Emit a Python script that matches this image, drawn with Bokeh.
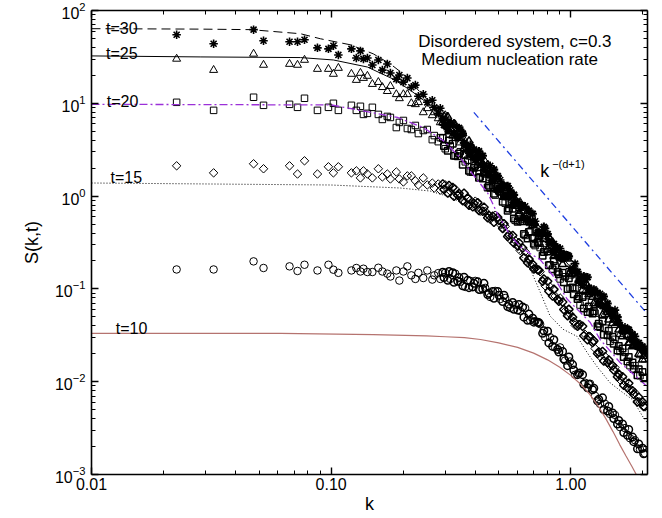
import math
from bokeh.plotting import figure
from bokeh.models import LogAxis, FixedTicker, CustomJSTickFormatter, Label
from bokeh.embed import file_html
from bokeh.resources import INLINE

FONT = "Liberation Sans"

# wave numbers of the measured points (first set)
k = [0.02266, 0.03233, 0.04746, 0.05222, 0.06705, 0.07239, 0.07742, 0.08768, 0.09744,
     0.1022, 0.1072, 0.1215, 0.1274, 0.1325, 0.1364, 0.1417, 0.1486, 0.1574, 0.1636,
     0.1716, 0.1767, 0.1871, 0.1926, 0.2002, 0.2080, 0.2161, 0.2246, 0.2312, 0.2424,
     0.2519, 0.2643, 0.2694, 0.2799,
     0.2854, 0.2994, 0.3141, 0.3296, 0.3458, 0.3628, 0.3806, 0.3993, 0.4189, 0.4395,
     0.4611, 0.4837, 0.5075, 0.5325, 0.5586, 0.5861, 0.6149, 0.6451, 0.6768, 0.7100,
     0.7449, 0.7815, 0.8199, 0.8602, 0.9025, 0.9468, 0.9933, 1.0421, 1.0933, 1.1471,
     1.2034, 1.2625, 1.3246, 1.3897, 1.4580, 1.5296, 1.6048, 1.6836, 1.7663, 1.8531,
     1.9442, 2.0397]

# wave numbers of further measured points in the dense large-k region
k2 = [0.2923, 0.3067, 0.3217, 0.3376, 0.3542, 0.3716, 0.3898, 0.4090, 0.4291, 0.4502,
      0.4723, 0.4954, 0.5198, 0.5454, 0.5722, 0.6003, 0.6298, 0.6608, 0.6932, 0.7272,
      0.7630, 0.8005, 0.8398, 0.8811, 0.9244, 0.9698, 1.0174, 1.0674, 1.1198, 1.1749,
      1.2326, 1.2931, 1.3567, 1.4234, 1.4934, 1.5667, 1.6438, 1.7245, 1.8092, 1.8981,
      1.9914]
k3 = [0.2958, 0.3104, 0.3256, 0.3417, 0.3585, 0.3761, 0.3945, 0.4139, 0.4343, 0.4556,
      0.4780, 0.5014, 0.5261, 0.5520, 0.5791, 0.6075, 0.6374, 0.6688, 0.7016, 0.7360,
      0.7722, 0.8102, 0.8499, 0.8917, 0.9355, 0.9815, 1.0297, 1.0803, 1.1333, 1.1891,
      1.2475, 1.3087, 1.3731, 1.4406, 1.5114, 1.5856, 1.6636, 1.7453, 1.8310, 1.9210,
      2.0154]

s_t10 = [0.162, 0.162, 0.198, 0.168, 0.175, 0.156, 0.182, 0.158, 0.182,
         0.161, 0.149, 0.158, 0.168, 0.154, 0.165, 0.152, 0.152, 0.169, 0.154, 0.146, 0.136,
         0.158, 0.123, 0.154, 0.175, 0.140, 0.128, 0.149, 0.131, 0.158, 0.126, 0.140, 0.148,
         0.128, 0.149, 0.128, 0.146, 0.119, 0.105, 0.122, 0.122, 0.0975, 0.1025, 0.0818,
         0.0951, 0.0778, 0.0798, 0.0622, 0.0670, 0.0577, 0.0622, 0.0460, 0.0449, 0.0417,
         0.0301, 0.0301, 0.0234, 0.0234, 0.0169, 0.0165, 0.0119, 0.0125, 0.00975, 0.00951,
         0.00704, 0.00577, 0.00577, 0.00449, 0.00438, 0.00324, 0.00316, 0.00246, 0.00234,
         0.00187, 0.00169]
s_t10_b = [0.1511, 0.1237, 0.1492, 0.1207, 0.1078, 0.1237, 0.1051, 0.1192, 0.100, 0.0871,
           0.0939, 0.0939, 0.0731, 0.0645, 0.0713, 0.0591, 0.0637, 0.0460, 0.0484, 0.0438,
           0.0332, 0.0350, 0.0240, 0.0223, 0.0212, 0.0149, 0.0153, 0.0119, 0.0119, 0.00861,
           0.00818, 0.00622, 0.0067, 0.00484, 0.0046, 0.0035, 0.0035, 0.00265, 0.00253,
           0.00189, 0.00192]
s_t10_c = [0.1325, 0.1540, 0.1177, 0.1325, 0.1334, 0.1032, 0.1148, 0.0988, 0.1148, 0.0899,
           0.0793, 0.0855, 0.0855, 0.0683, 0.0602, 0.0679, 0.0496, 0.0535, 0.0438, 0.0432,
           0.0354, 0.0262, 0.0283, 0.0209, 0.01757, 0.01846, 0.01334, 0.01237, 0.00939,
           0.00939, 0.0085, 0.00645, 0.00502, 0.00542, 0.00401, 0.00382, 0.00283, 0.00305,
           0.00226, 0.00213, 0.00167]

s_t15 = [2.12, 1.78, 2.23, 1.97, 2.12, 1.73, 2.40, 1.73, 2.07,
         1.78, 2.07, 1.78, 1.87, 1.57, 1.87, 1.73, 1.57, 1.97, 1.61, 1.73, 1.53, 1.82, 1.53,
         1.42, 1.65, 1.65, 1.46, 1.32, 1.57, 1.32, 1.38, 1.22, 1.35,
         1.16, 1.32, 1.13, 1.19, 0.975, 0.861, 0.905, 0.882, 0.687, 0.687, 0.562, 0.622,
         0.496, 0.472, 0.341, 0.332, 0.259, 0.2525, 0.182, 0.165, 0.153, 0.108, 0.105,
         0.0839, 0.0798, 0.0577, 0.0535, 0.0406, 0.0417, 0.0324, 0.0308, 0.0228, 0.0187,
         0.0187, 0.0149, 0.0142, 0.0105, 0.0100, 0.00798, 0.00760, 0.00606, 0.00535]
s_t15_b = [1.350, 1.078, 1.237, 1.025, 0.894, 0.951, 0.769, 0.850, 0.687, 0.584,
           0.606, 0.591, 0.449, 0.367, 0.377, 0.290, 0.2755, 0.1917, 0.1846, 0.161,
           0.1207, 0.1207, 0.0839, 0.0769, 0.0722, 0.0515, 0.0496, 0.0396, 0.0396, 0.0283,
           0.0265, 0.0201, 0.0212, 0.0161, 0.0149, 0.01133, 0.01133, 0.00861, 0.00798,
           0.00606, 0.00606]
s_t15_c = [1.177, 1.300, 0.994, 1.065, 1.071, 0.798, 0.834, 0.700, 0.759, 0.618,
           0.522, 0.548, 0.502, 0.3815, 0.3124, 0.3143, 0.2159, 0.2093, 0.1639, 0.1589,
           0.1276, 0.0945, 0.0988, 0.0736, 0.0599, 0.0602, 0.0443, 0.0411, 0.0312, 0.0307,
           0.02755, 0.0209, 0.0167, 0.01713, 0.01334, 0.01207, 0.00916, 0.00963, 0.00731,
           0.00679, 0.00542]

s_t20 = [10.25, 8.39, 11.62, 9.51, 9.75, 9.05, 11.33, 8.39, 9.05,
         10.0, 8.39, 9.51, 8.39, 9.28, 7.59, 7.79, 9.05, 7.59, 6.70, 7.22, 7.04, 5.48, 6.22,
         6.53, 5.35, 5.22, 5.77, 4.72, 5.09, 5.22, 4.06, 4.49, 3.86,
         4.27, 3.24, 3.50, 2.72, 3.01, 2.34, 1.82, 2.12, 1.61, 1.73, 1.22, 1.025, 1.105,
         0.839, 0.818, 0.548, 0.535, 0.377, 0.4165, 0.293, 0.279, 0.265, 0.182, 0.178,
         0.128, 0.135, 0.1025, 0.100, 0.067, 0.0722, 0.0562, 0.0548, 0.0386, 0.0377,
         0.0272, 0.0286, 0.0212, 0.0207, 0.0149, 0.0149, 0.0116, 0.01105]
s_t20_b = [4.217, 3.084, 3.674, 2.687, 2.173, 2.431, 1.823, 2.040, 1.549, 1.237,
           1.300, 1.268, 0.871, 0.696, 0.731, 0.528, 0.535, 0.350, 0.354, 0.316,
           0.228, 0.2525, 0.163, 0.153, 0.149, 0.100, 0.1038, 0.0778, 0.0818, 0.0562,
           0.0542, 0.0396, 0.0449, 0.0316, 0.0305, 0.0217, 0.0228, 0.0165, 0.0161,
           0.01177, 0.01269]
s_t20_c = [3.474, 3.961, 2.722, 2.879, 2.790, 1.881, 2.015, 1.579, 1.789, 1.292,
           1.058, 1.140, 1.045, 0.736, 0.573, 0.6025, 0.391, 0.411, 0.3065, 0.3124,
           0.2492, 0.1800, 0.2002, 0.1438, 0.1177, 0.1301, 0.0877, 0.0829, 0.0614, 0.0645,
           0.0573, 0.0422, 0.0320, 0.0354, 0.0257, 0.0243, 0.01846, 0.01846, 0.01368,
           0.01359, 0.01112]

s_t25 = [30.1, 22.8, 34.1, 25.9, 26.5, 25.9, 29.3, 23.4, 23.4,
         20.7, 24.0, 20.7, 17.8, 21.2, 18.7, 19.7, 16.1, 16.9, 14.9, 13.5, 15.3, 12.5, 11.3,
         12.5, 12.5, 10.0, 9.75, 10.25, 7.98, 8.83, 7.41, 7.98, 6.87,
         6.22, 7.41, 5.35, 5.91, 3.77, 3.86, 2.65, 3.01, 2.28, 2.34, 1.57, 1.61, 1.105,
         1.16, 1.105, 0.779, 0.861, 0.548, 0.509, 0.509, 0.341, 0.367, 0.341, 0.228, 0.212,
         0.217, 0.1385, 0.149, 0.135, 0.0928, 0.0928, 0.067, 0.0722, 0.0535, 0.0577,
         0.0406, 0.0324, 0.035, 0.0265, 0.0253, 0.0192, 0.0173]
s_t25_b = [6.22, 7.13, 4.49, 4.84, 4.72, 3.16, 3.24, 2.17, 2.23, 2.17,
           1.53, 1.162, 1.300, 1.222, 0.818, 0.818, 0.577, 0.687, 0.484, 0.396,
           0.406, 0.2653, 0.316, 0.240, 0.1846, 0.212, 0.1456, 0.142, 0.0975, 0.1078,
           0.0818, 0.0839, 0.0522, 0.0562, 0.0427, 0.0438, 0.0308, 0.0316, 0.0240, 0.0253,
           0.0173]
s_t25_c = [7.22, 4.99, 5.99, 4.217, 3.283, 3.912, 2.755, 2.687, 1.757, 1.893,
           1.800, 1.237, 0.981, 1.038, 0.963, 0.645, 0.769, 0.528, 0.515, 0.372,
           0.345, 0.363, 0.2256, 0.2371, 0.2186, 0.1438, 0.1589, 0.1237, 0.1268, 0.0871,
           0.0696, 0.0713, 0.0713, 0.0466, 0.0466, 0.0363, 0.0354, 0.0262, 0.0249, 0.0199,
           0.01893]

s_t30 = [54.8, 43.8, 62.2, 47.2, 46.0, 46.0, 48.4, 39.6, 38.6,
         41.7, 33.2, 38.6, 30.8, 36.7, 30.1, 30.8, 25.9, 29.3, 22.8, 26.5, 21.2, 18.2, 20.2,
         16.9, 18.7, 14.9, 15.7, 11.9, 12.5, 10.25, 10.8, 9.05, 7.79,
         8.83, 5.77, 6.06, 4.60, 5.22, 3.50, 3.58, 2.46, 2.52, 1.87, 2.12, 1.53, 1.49, 1.0,
         1.16, 0.882, 0.704, 0.778, 0.535, 0.535, 0.386, 0.449, 0.316, 0.246, 0.272, 0.217,
         0.165, 0.187, 0.128, 0.128, 0.0905, 0.0951, 0.0883, 0.0622, 0.0577, 0.0591,
         0.0406, 0.0386, 0.0286, 0.0308, 0.0228, 0.0207]
s_t30_b = [6.87, 5.22, 5.84, 4.27, 4.72, 3.41, 2.62, 2.79, 2.72, 1.82,
           1.474, 1.65, 1.222, 1.284, 0.808, 0.861, 0.778, 0.562, 0.645, 0.406,
           0.396, 0.391, 0.259, 0.279, 0.212, 0.231, 0.157, 0.153, 0.1105, 0.1334,
           0.0928, 0.0905, 0.0653, 0.0696, 0.0509, 0.0496, 0.035, 0.0367, 0.0324, 0.0240,
           0.0240]
s_t30_c = [5.84, 6.14, 4.75, 5.42, 3.72, 2.90, 3.18, 3.046, 2.145, 1.713,
           1.929, 1.206, 1.300, 0.988, 1.032, 0.829, 0.584, 0.696, 0.4994, 0.411,
           0.466, 0.318, 0.3046, 0.220, 0.2371, 0.2242, 0.163, 0.1207, 0.1368, 0.1032,
           0.0988, 0.0696, 0.0829, 0.0595, 0.0569, 0.0432, 0.0372, 0.0363, 0.0269, 0.0262,
           0.02256]

# theory curves
line_k10 = [0.01, 0.0615, 0.15, 0.25, 0.30, 0.36, 0.42, 0.50, 0.60, 0.70, 0.80, 0.90,
            1.0, 1.1, 1.2, 1.3, 1.4, 1.5, 1.6, 1.7, 1.8, 1.9, 2.0, 2.09]
line_s10 = [0.0332, 0.0332, 0.0322, 0.0312, 0.0305, 0.0298, 0.0285, 0.0262, 0.0234,
            0.0203, 0.0172, 0.0143, 0.0117, 0.0094, 0.0073, 0.0055, 0.0040, 0.0029,
            0.0021, 0.00158, 0.00122, 0.00094, 0.00070, 0.00053]

line_k15 = [0.01, 0.1, 0.1944, 0.2593, 0.3141, 0.3458, 0.4189, 0.493, 0.5586, 0.6149,
            0.6768, 0.7449, 0.8199, 0.9288, 1.062, 1.169, 1.287, 1.458, 1.652, 1.818,
            2.001, 2.09]
line_s15 = [1.384, 1.317, 1.222, 1.133, 0.975, 0.861, 0.670, 0.509, 0.3496, 0.240,
            0.165, 0.0928, 0.0509, 0.0367, 0.0308, 0.0207, 0.01455, 0.00975, 0.0076,
            0.00637, 0.00417, 0.0036]

line_k20 = [0.01, 0.1, 0.132, 0.189, 0.242, 0.294, 0.3458, 0.3917, 0.45, 0.493, 0.5586,
            0.6149, 0.6768, 0.7449, 0.843, 0.965, 1.093, 1.203, 1.325, 1.605, 2.001, 2.09]
line_s20 = [9.75, 9.6, 8.39, 7.04, 5.48, 3.96, 2.59, 1.69, 1.08, 0.654, 0.377, 0.286,
            0.240, 0.207, 0.1385, 0.0778, 0.0562, 0.0438, 0.0286, 0.0161, 0.00975, 0.0088]

line_k25 = [0.01, 0.0286, 0.0745, 0.1022, 0.1417, 0.1818, 0.214, 0.2593, 0.3141, 0.4189,
            0.6149, 0.9025, 1.3246, 2.09]
line_s25 = [32.4, 31.6, 31.1, 29.3, 24.6, 18.2, 13.85, 9.51, 6.22, 2.59, 0.778, 0.234,
            0.0704, 0.0178]

line_k30 = [0.01, 0.0286, 0.0461, 0.0745, 0.0902, 0.1203, 0.150, 0.1767, 0.2002, 0.2289,
            0.2854, 0.4189, 0.6149, 0.9025, 1.3246, 2.09]
line_s30 = [63.7, 63.0, 62.2, 56.2, 49.6, 42.7, 34.1, 26.5, 20.7, 14.2, 7.79, 2.59,
            0.818, 0.259, 0.0778, 0.0205]

slope_k = [0.394, 2.09]
slope_s = [7.98, 0.0535]

x_major = [0.01, 0.1, 1.0]
x_minor = [0.02, 0.03, 0.04, 0.05, 0.06, 0.07, 0.08, 0.09,
           0.2, 0.3, 0.4, 0.5, 0.6, 0.7, 0.8, 0.9, 2.0]
y_major = [1e-3, 1e-2, 1e-1, 1.0, 10.0, 100.0]
y_minor = [m * 10.0 ** e for e in range(-3, 2) for m in range(2, 10)]

p = figure(width=662, height=518, x_axis_type="log", y_axis_type="log",
           x_range=(0.01, 2.09), y_range=(1e-3, 1e2),
           output_backend="svg", toolbar_location=None,
           min_border_left=91, min_border_right=15, min_border_top=10, min_border_bottom=44)
p.title.visible = False
p.xgrid.visible = False
p.ygrid.visible = False
p.outline_line_color = None
p.background_fill_color = "white"
p.border_fill_color = "white"


def style(ax):
    ax.axis_line_width = 1.6
    ax.axis_line_color = "black"
    ax.major_tick_in = 7
    ax.major_tick_out = 0
    ax.minor_tick_in = 4
    ax.minor_tick_out = 0
    ax.major_tick_line_width = 1.4
    ax.minor_tick_line_width = 1.0
    ax.major_label_text_font = FONT
    ax.major_label_text_font_size = "16px"
    ax.major_label_text_color = "black"
    ax.axis_label_text_font = FONT
    ax.axis_label_text_font_size = "18px"
    ax.axis_label_text_font_style = "normal"
    ax.axis_label_text_color = "black"


xax = p.xaxis[0]
xax.ticker = FixedTicker(ticks=x_major, minor_ticks=x_minor)
xax.formatter = CustomJSTickFormatter(code="return tick.toFixed(2);")
xax.axis_label = "k"
xax.major_label_standoff = 3
xax.axis_label_standoff = 1
style(xax)

yax = p.yaxis[0]
yax.ticker = FixedTicker(ticks=y_major, minor_ticks=y_minor)
yax.axis_label = "S(k,t)"
yax.major_label_standoff = 6
yax.axis_label_standoff = 10
style(yax)

empty = CustomJSTickFormatter(code="return '';")
top = LogAxis(ticker=FixedTicker(ticks=x_major, minor_ticks=x_minor), formatter=empty,
              major_label_standoff=0)
style(top)
top.major_label_text_font_size = "1px"
p.add_layout(top, "above")
right = LogAxis(ticker=FixedTicker(ticks=y_major, minor_ticks=y_minor), formatter=empty,
                major_label_standoff=0)
style(right)
right.major_label_text_font_size = "1px"
p.add_layout(right, "right")

# measured structure factors
series = [
    (s_t10, s_t10_b, s_t10_c, dict(marker="circle", size=7.5, fill_color=None)),
    (s_t15, s_t15_b, s_t15_c, dict(marker="square", angle=math.pi / 4, size=6, fill_color=None)),
    (s_t20, s_t20_b, s_t20_c, dict(marker="square", size=6.5, fill_color=None)),
    (s_t25, s_t25_b, s_t25_c, dict(marker="triangle", size=8, fill_color=None)),
    (s_t30, s_t30_b, s_t30_c, dict(marker="asterisk", size=8.5)),
]
for sa, sb, sc, kw in series:
    lw = 1.6 if kw["marker"] == "asterisk" else 1.0
    p.scatter(k, sa, line_color="black", line_width=lw, **kw)
    p.scatter(k2, sb, line_color="black", line_width=lw + 0.5, **kw)
    p.scatter(k3, sc, line_color="black", line_width=lw + 0.5, **kw)

# theory curves
p.line(line_k10, line_s10, line_color="#b5736f", line_width=1.2)
p.line(line_k15, line_s15, line_color="black", line_width=1, line_dash="1 2")
p.line(line_k20, line_s20, line_color="#9b30d8", line_width=1.3, line_dash="8 3 2 3")
p.line(line_k25, line_s25, line_color="black", line_width=1)
p.line(line_k30, line_s30, line_color="black", line_width=1, line_dash="9 5")
p.line(slope_k, slope_s, line_color="#1f3fe0", line_width=1.3, line_dash="7 4 2 4")

labels = [
    (0.0115, 63.7, "t=30", "16px"),
    (0.0115, 34.1, "t=25", "16px"),
    (0.01158, 10.5, "t=20", "16px"),
    (0.0120, 1.569, "t=15", "16px"),
    (0.01263, 0.0377, "t=10", "16px"),
    (0.2311, 46.0, "Disordered system, c=0.3", "17px"),
    (0.2378, 29.3, "Medium nucleation rate", "17px"),
    (0.745, 1.87, "k", "18px"),
    (0.836, 2.228, "\u2212(d+1)", "11px"),
]
for lx, ly, txt, fs in labels:
    p.add_layout(Label(x=lx, y=ly, text=txt, text_font=FONT, text_font_size=fs,
                       text_baseline="alphabetic", text_align="left", text_color="black"))

open("out.html", "w").write(file_html(p, INLINE))
